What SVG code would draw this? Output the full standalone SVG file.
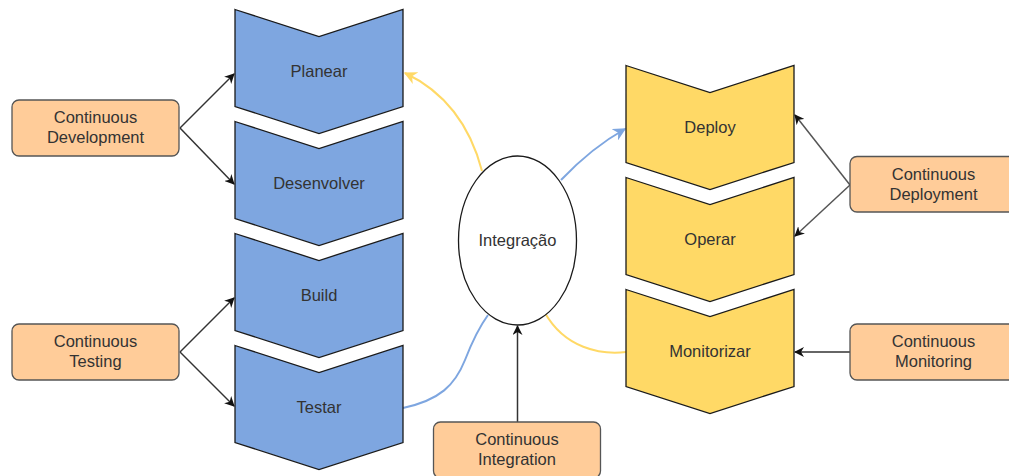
<svg xmlns="http://www.w3.org/2000/svg" xmlns:xlink="http://www.w3.org/1999/xlink" width="1009" height="476" viewBox="0 0 1009 476">
  <style>
    text { font-family: "Liberation Sans", Arial, sans-serif; font-size: 16.5px; fill: #333333; text-anchor: middle; }
    .blue { fill: #7EA6E0; stroke: #1a1a1a; stroke-width: 1.3; }
    .yellow { fill: #FFD966; stroke: #1a1a1a; stroke-width: 1.3; }
    .box { fill: #FFCC99; stroke: #555555; stroke-width: 1.3; }
    .ellipse { fill: #ffffff; stroke: #1a1a1a; stroke-width: 1.3; }
    .link { fill: none; stroke: #333333; stroke-width: 1.5; }
    .link-grey { fill: none; stroke: #555555; stroke-width: 1.5; }
    .flow-blue { fill: none; stroke: #7EA6E0; stroke-width: 2; }
    .flow-yellow { fill: none; stroke: #FFD966; stroke-width: 2; }
  </style>
  <defs>
    <!-- step shape: 168 wide, notch on top, point at bottom -->
    <path id="chev" d="M0,0 L84,27 L168,0 L168,97 L84,124 L0,97 Z"/>
    <marker id="arrow-dark" viewBox="0 0 10 10" refX="9" refY="5" markerWidth="10" markerHeight="10" markerUnits="userSpaceOnUse" orient="auto">
      <path d="M0,0 L10,5 L0,10 L3,5 Z" fill="#111111"/>
    </marker>
    <marker id="arrow-blue" viewBox="0 0 10 10" refX="9" refY="5" markerWidth="13" markerHeight="13" markerUnits="userSpaceOnUse" orient="auto">
      <path d="M0,0 L10,5 L0,10 L3,5 Z" fill="#7EA6E0"/>
    </marker>
    <marker id="arrow-yellow" viewBox="0 0 10 10" refX="9" refY="5" markerWidth="13" markerHeight="13" markerUnits="userSpaceOnUse" orient="auto">
      <path d="M0,0 L10,5 L0,10 L3,5 Z" fill="#FFD966"/>
    </marker>
  </defs>

  <!-- connectors -->
  <g id="connectors">
    <path class="link" d="M180,128 L234,74" marker-end="url(#arrow-dark)"/>
    <path class="link" d="M180,128 L234,184" marker-end="url(#arrow-dark)"/>
    <path class="link" d="M180,352 L234,298" marker-end="url(#arrow-dark)"/>
    <path class="link" d="M180,352 L234,406" marker-end="url(#arrow-dark)"/>
    <path class="link-grey" d="M850,185 L795,115" marker-end="url(#arrow-dark)"/>
    <path class="link-grey" d="M850,185 L795,236" marker-end="url(#arrow-dark)"/>
    <path class="link" d="M850,352 L795,352" marker-end="url(#arrow-dark)"/>
    <path class="link" d="M517.5,422 L517.5,326" marker-end="url(#arrow-dark)"/>
    <path class="flow-yellow" d="M482,171 C470,125 445,92 405,73" marker-end="url(#arrow-yellow)"/>
    <path class="flow-blue" d="M561,180 C580,160 600,143 625,129" marker-end="url(#arrow-blue)"/>
    <path class="flow-blue" d="M403,408 C440,400 455,385 465,360 C472,342 480,326 488,315"/>
    <path class="flow-yellow" d="M626,352 C600,355 565,348 545,313"/>
  </g>

  <!-- left column -->
  <g id="planear">
    <use xlink:href="#chev" x="235" y="9.5" class="blue"/>
    <text x="319" y="77">Planear</text>
  </g>
  <g id="desenvolver">
    <use xlink:href="#chev" x="235" y="121.5" class="blue"/>
    <text x="319" y="189">Desenvolver</text>
  </g>
  <g id="build">
    <use xlink:href="#chev" x="235" y="233.5" class="blue"/>
    <text x="319" y="301">Build</text>
  </g>
  <g id="testar">
    <use xlink:href="#chev" x="235" y="345.5" class="blue"/>
    <text x="319" y="413">Testar</text>
  </g>

  <!-- right column -->
  <g id="deploy">
    <use xlink:href="#chev" x="626" y="65.5" class="yellow"/>
    <text x="710" y="133">Deploy</text>
  </g>
  <g id="operar">
    <use xlink:href="#chev" x="626" y="177.5" class="yellow"/>
    <text x="710" y="245">Operar</text>
  </g>
  <g id="monitorizar">
    <use xlink:href="#chev" x="626" y="289.5" class="yellow"/>
    <text x="710" y="357">Monitorizar</text>
  </g>

  <!-- centre -->
  <g id="integracao">
    <ellipse class="ellipse" cx="517.5" cy="240.5" rx="59" ry="84.5"/>
    <text x="517.5" y="246">Integração</text>
  </g>

  <!-- practices -->
  <g id="continuous-development">
    <rect class="box" x="12" y="100" width="167" height="56" rx="7"/>
    <text x="95.5" y="123">Continuous</text>
    <text x="95.5" y="143">Development</text>
  </g>
  <g id="continuous-testing">
    <rect class="box" x="12" y="324" width="167" height="56" rx="7"/>
    <text x="95.5" y="347">Continuous</text>
    <text x="95.5" y="367">Testing</text>
  </g>
  <g id="continuous-integration">
    <rect class="box" x="433.5" y="422" width="167" height="56" rx="7"/>
    <text x="517" y="445">Continuous</text>
    <text x="517" y="465">Integration</text>
  </g>
  <g id="continuous-deployment">
    <rect class="box" x="850" y="156.5" width="167" height="55.5" rx="7"/>
    <text x="933.5" y="180">Continuous</text>
    <text x="933.5" y="200">Deployment</text>
  </g>
  <g id="continuous-monitoring">
    <rect class="box" x="850" y="324" width="167" height="56" rx="7"/>
    <text x="933.5" y="347">Continuous</text>
    <text x="933.5" y="367">Monitoring</text>
  </g>
</svg>
